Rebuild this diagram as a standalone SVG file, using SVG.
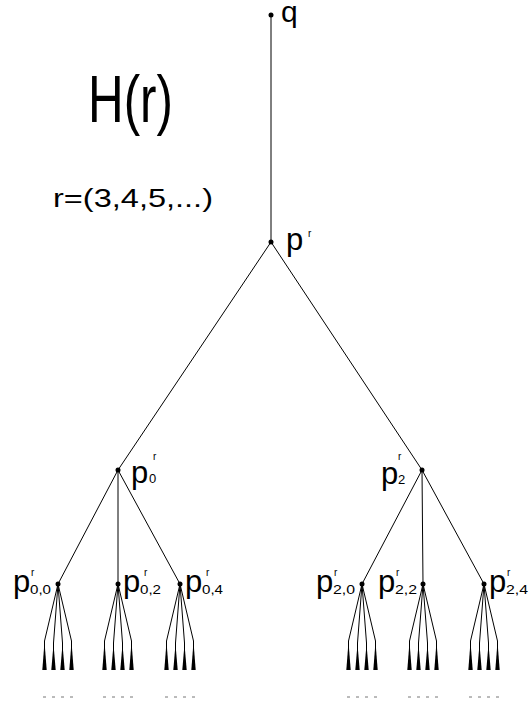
<svg xmlns="http://www.w3.org/2000/svg" width="531" height="702" viewBox="0 0 531 702">
<defs>
<style>
.e{stroke:#000;stroke-width:1;fill:none}
.d{fill:#000}
.t{font-family:"Liberation Sans",Arial,sans-serif;fill:#000}
.sp{fill:#000}
.da{stroke:#777;stroke-width:1}
</style>
<g id="fan">
<polyline class="e" points="0,0 -13.5,57 -13.5,86"/>
<polyline class="e" points="0,0 -4.5,59 -4.5,86"/>
<polyline class="e" points="0,0 4.5,59 4.5,86"/>
<polyline class="e" points="0,0 13.5,57 13.5,86"/>
<polygon class="sp" points="-13.5,58 -15.7,86 -11.3,86"/>
<polygon class="sp" points="-4.5,60 -6.7,86 -2.3,86"/>
<polygon class="sp" points="4.5,60 2.3,86 6.7,86"/>
<polygon class="sp" points="13.5,58 11.3,86 15.7,86"/>
<line class="da" x1="-15" y1="113" x2="-12" y2="113"/>
<line class="da" x1="-6" y1="113" x2="-3" y2="113"/>
<line class="da" x1="3" y1="113" x2="6" y2="113"/>
<line class="da" x1="12" y1="113" x2="15" y2="113"/>
</g>
</defs>
<rect width="531" height="702" fill="#fff"/>
<g id="title">
<text class="t" x="88" y="122" font-size="66" textLength="85" lengthAdjust="spacingAndGlyphs">H(r)</text>
<text class="t" x="53" y="207" font-size="25" textLength="160" lengthAdjust="spacingAndGlyphs">r=(3,4,5,...)</text>
</g>
<g id="connectors">
<line class="e" x1="271" y1="15" x2="271" y2="242"/>
<line class="e" x1="271" y1="242" x2="118" y2="470"/>
<line class="e" x1="271" y1="242" x2="422" y2="470"/>
<line class="e" x1="118" y1="470" x2="58" y2="584"/>
<line class="e" x1="118" y1="470" x2="118" y2="584"/>
<line class="e" x1="118" y1="470" x2="180" y2="584"/>
<line class="e" x1="422" y1="470" x2="362" y2="584"/>
<line class="e" x1="422" y1="470" x2="423" y2="584"/>
<line class="e" x1="422" y1="470" x2="484" y2="584"/>
<use href="#fan" x="58" y="584"/>
<use href="#fan" x="118" y="584"/>
<use href="#fan" x="180" y="584"/>
<use href="#fan" x="362" y="584"/>
<use href="#fan" x="423" y="584"/>
<use href="#fan" x="484" y="584"/>
</g>
<g id="q">
<circle class="d" cx="271" cy="15" r="2.5"/>
<text class="t" x="281" y="22" font-size="30">q</text>
</g>
<g id="pr">
<circle class="d" cx="271" cy="242" r="2.5"/>
<text class="t" x="286" y="250" font-size="31">p</text>
<text class="t" x="308" y="237" font-size="10">r</text>
</g>
<g id="p0">
<circle class="d" cx="118" cy="470" r="2.5"/>
<text class="t" x="131" y="483" font-size="31">p</text>
<text class="t" x="149" y="483" font-size="13">0</text>
<text class="t" x="153" y="460" font-size="10">r</text>
</g>
<g id="p2">
<circle class="d" cx="422" cy="470" r="2.5"/>
<text class="t" x="381" y="484" font-size="31">p</text>
<text class="t" x="398" y="484" font-size="13">2</text>
<text class="t" x="398" y="460" font-size="10">r</text>
</g>
<g id="p00">
<circle class="d" cx="58" cy="584" r="2.5"/>
<text class="t" x="13" y="592" font-size="31">p</text>
<text class="t" x="30" y="594" font-size="13" textLength="21" lengthAdjust="spacingAndGlyphs">0,0</text>
<text class="t" x="31" y="576" font-size="10">r</text>
</g>
<g id="p02">
<circle class="d" cx="118" cy="584" r="2.5"/>
<text class="t" x="123" y="592" font-size="31">p</text>
<text class="t" x="140" y="594" font-size="13" textLength="21" lengthAdjust="spacingAndGlyphs">0,2</text>
<text class="t" x="144" y="576" font-size="10">r</text>
</g>
<g id="p04">
<circle class="d" cx="180" cy="584" r="2.5"/>
<text class="t" x="185" y="592" font-size="31">p</text>
<text class="t" x="202" y="594" font-size="13" textLength="21" lengthAdjust="spacingAndGlyphs">0,4</text>
<text class="t" x="206" y="576" font-size="10">r</text>
</g>
<g id="p20">
<circle class="d" cx="362" cy="584" r="2.5"/>
<text class="t" x="316" y="592" font-size="31">p</text>
<text class="t" x="333" y="594" font-size="13" textLength="22" lengthAdjust="spacingAndGlyphs">2,0</text>
<text class="t" x="334" y="576" font-size="10">r</text>
</g>
<g id="p22">
<circle class="d" cx="423" cy="584" r="2.5"/>
<text class="t" x="378" y="592" font-size="31">p</text>
<text class="t" x="395" y="594" font-size="13" textLength="22" lengthAdjust="spacingAndGlyphs">2,2</text>
<text class="t" x="396" y="576" font-size="10">r</text>
</g>
<g id="p24">
<circle class="d" cx="484" cy="584" r="2.5"/>
<text class="t" x="489" y="592" font-size="31">p</text>
<text class="t" x="506" y="594" font-size="13" textLength="22" lengthAdjust="spacingAndGlyphs">2,4</text>
<text class="t" x="507" y="576" font-size="10">r</text>
</g>
</svg>
